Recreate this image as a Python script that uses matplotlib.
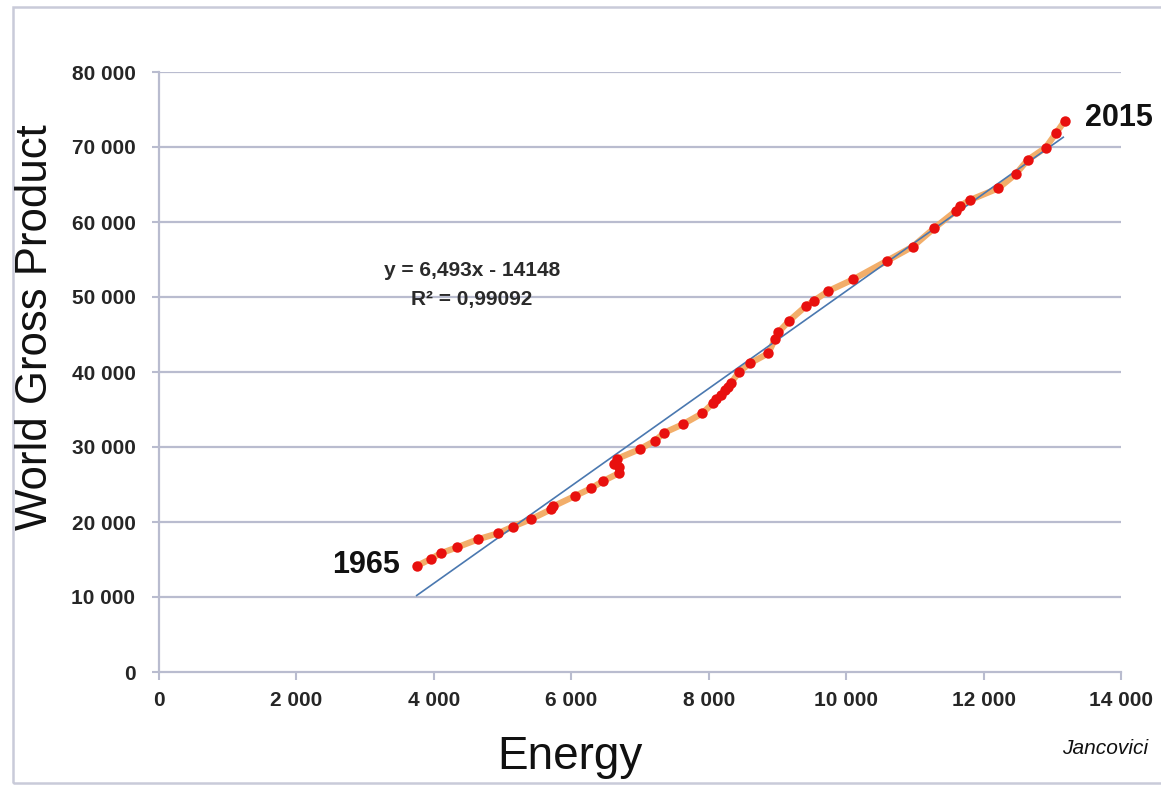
import matplotlib
matplotlib.use("Agg")
import matplotlib.pyplot as plt
from matplotlib.patches import Rectangle

# Data (Energy vs World Gross Product, 1965-2015)
energy = [3750, 3954, 4100, 4341, 4642, 4933, 5147, 5410, 5710, 5740,
          6054, 6287, 6466, 6690, 6700, 6620, 6660, 7000, 7219, 7354,
          7621, 7907, 8067, 8110, 8174, 8237, 8280, 8320, 8445, 8601,
          8867, 8964, 9013, 9173, 9416, 9532, 9741, 10105, 10590, 10968,
          11285, 11600, 11650, 11803, 12214, 12471, 12641, 12903, 13053, 13184]
wgp = [14130, 15070, 15830, 16630, 17690, 18490, 19370, 20360, 21700, 22100,
       23470, 24490, 25470, 26500, 27400, 27800, 28400, 29730, 30840, 31910,
       33020, 34490, 35900, 36400, 36930, 37600, 38000, 38490, 40040, 41160,
       42490, 44360, 45290, 46840, 48800, 49510, 50800, 52360, 54800, 56710,
       59200, 61500, 62100, 62930, 64490, 66400, 68270, 69910, 71830, 73510]

slope = 6.493
intercept = -14148
fit_x = [3750, 13160]

x_ticks = [0, 2000, 4000, 6000, 8000, 10000, 12000, 14000]
y_ticks = [0, 10000, 20000, 30000, 40000, 50000, 60000, 70000, 80000]

def fmt(v):
    return f"{v:,}".replace(",", " ")

plt.rcParams['font.family'] = ['Liberation Sans', 'DejaVu Sans']

fig = plt.figure(figsize=(11.61, 7.85), dpi=100)
fig.patch.set_facecolor('white')
ax = fig.add_axes([159/1161, 1-672/785, (1121-159)/1161, 600/785])

grid_c = '#B9BCCF'
for yv in y_ticks[1:]:
    ax.axhline(yv, color=grid_c, lw=1.6, zorder=0)

fit_y = [slope*v + intercept for v in fit_x]
ax.plot(fit_x, fit_y, color='#4A78B0', lw=1.2, zorder=3)
ax.plot(energy, wgp, color='#F2AE6A', lw=4.5, zorder=2, solid_capstyle='round')
ax.plot(energy, wgp, linestyle='none', marker='o', ms=7.5, color='#E8100E',
        markeredgewidth=0, zorder=4)

ax.set_xlim(0, 14000)
ax.set_ylim(0, 80000)
ax.set_xticks(x_ticks)
ax.set_yticks(y_ticks)
ax.set_xticklabels([fmt(v) for v in x_ticks])
ax.set_yticklabels([fmt(v) for v in y_ticks])
for lab in ax.get_xticklabels() + ax.get_yticklabels():
    lab.set_fontweight('bold')
    lab.set_fontsize(15)
    lab.set_color('#262626')
ax.tick_params(axis='y', length=5, width=1.5, color=grid_c, pad=12)
ax.tick_params(axis='x', length=6, width=1.5, color=grid_c, pad=8)

for s in ['top', 'right']:
    ax.spines[s].set_visible(False)
for s in ['left', 'bottom']:
    ax.spines[s].set_color(grid_c)
    ax.spines[s].set_linewidth(1.6)
ax.patch.set_alpha(0)

fig.text(36/1161, 1-327/785, 'World Gross Product', rotation=90,
         ha='center', va='center', fontsize=31.5, color='#111111')
fig.text(570/1161, 1-757/785, 'Energy', ha='center', va='center',
         fontsize=33, color='#111111')

ax.text(4555, 53600, 'y = 6,493x - 14148', ha='center', va='center',
        fontsize=15, fontweight='bold', color='#2A2A2A')
ax.text(4555, 49600, 'R² = 0,99092', ha='center', va='center',
        fontsize=15, fontweight='bold', color='#2A2A2A')

ax.text(3500, 14300, '1965', ha='right', va='center', fontsize=22,
        fontweight='bold', color='#111111', clip_on=False)
fig.text(1085/1161, 1-118/785, '2015', ha='left', va='center', fontsize=22,
         fontweight='bold', color='#111111')

fig.text(1148/1161, 1-748/785, 'Jancovici', ha='right', va='center',
         fontsize=15, style='italic', color='#111111')

frame = Rectangle((13/1161, 1-783/785), 1.2, 776/785, transform=fig.transFigure,
                  fill=False, edgecolor='#C9CBD9', lw=1.8, clip_on=False)
fig.add_artist(frame)

fig.savefig('out.png', dpi=100, facecolor='white')
